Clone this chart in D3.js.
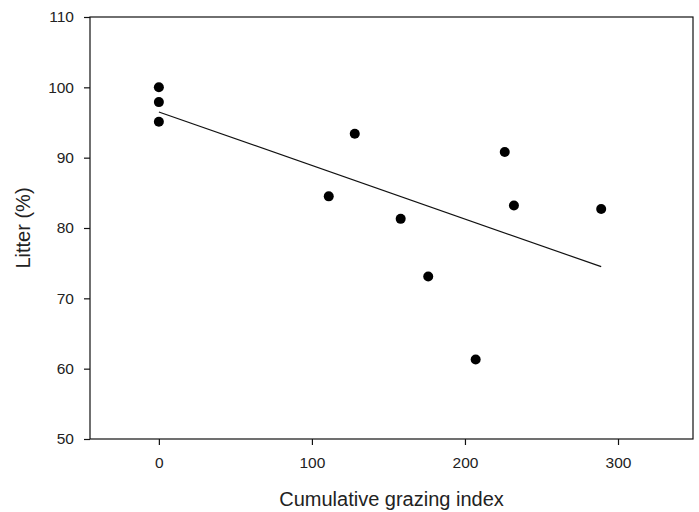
<!DOCTYPE html>
<html><head><meta charset="utf-8">
<script src="https://cdn.jsdelivr.net/npm/d3@7"></script>
<style>
body{margin:0;background:#fff;}
svg{display:block;}
text{font-family:"Liberation Sans",Arial,sans-serif;fill:#222;}
</style></head>
<body>
<script>
const grazingIndex = [0, 0, 0, 111, 128, 158, 176, 207, 226, 232, 289];
const litterPct    = [100, 97.9, 95.1, 84.5, 93.4, 81.3, 73.1, 61.3, 90.8, 83.2, 82.7];
const fitX = [0, 289];
const fitY = [96.5, 74.5];
const xTicks = [0, 100, 200, 300];
const yTicks = [50, 60, 70, 80, 90, 100, 110];
const xTitle = "Cumulative grazing index";
const yTitle = "Litter (%)";

const W = 699, H = 512;
const m = {left: 90, right: 6, top: 17, bottom: 73};
const svg = d3.select("body").append("svg").attr("width", W).attr("height", H);

const x = d3.scaleLinear().domain([-45, 349]).range([m.left, W - m.right]);
const y = d3.scaleLinear().domain([50, 110]).range([H - m.bottom, m.top]);

// frame
svg.append("rect").attr("x", x(-45)).attr("y", y(110))
  .attr("width", x(349) - x(-45)).attr("height", y(50) - y(110))
  .attr("fill", "none").attr("stroke", "#111").attr("stroke-width", 1.2);

const xAxis = svg.append("g").attr("transform", `translate(0,${y(50)})`)
  .call(d3.axisBottom(x).tickValues(xTicks).tickSize(6).tickPadding(12).tickFormat(d3.format("d")));
const yAxis = svg.append("g").attr("transform", `translate(${x(-45)},0)`)
  .call(d3.axisLeft(y).tickValues(yTicks).tickSize(6).tickPadding(10).tickFormat(d3.format("d")));
[xAxis, yAxis].forEach(g => {
  g.select(".domain").remove();
  g.selectAll(".tick line").attr("stroke", "#111").attr("stroke-width", 1.2);
  g.selectAll(".tick text").attr("font-size", 15.5).attr("font-family", "Liberation Sans, Arial, sans-serif").attr("fill", "#222");
});

// fit line
svg.append("path")
  .datum(fitX.map((v, i) => [v, fitY[i]]))
  .attr("d", d3.line().x(d => x(d[0])).y(d => y(d[1])))
  .attr("fill", "none").attr("stroke", "#111").attr("stroke-width", 1.2);

// points
svg.append("g").selectAll("circle")
  .data(grazingIndex.map((v, i) => [v, litterPct[i]]))
  .join("circle")
  .attr("cx", d => x(d[0])).attr("cy", d => y(d[1])).attr("r", 5)
  .attr("fill", "#000");

// titles
svg.append("text").attr("x", (m.left + W - m.right) / 2).attr("y", 506)
  .attr("text-anchor", "middle").attr("font-size", 20).text(xTitle);
svg.append("text").attr("transform", `translate(30,${(y(50) + y(110)) / 2}) rotate(-90)`)
  .attr("text-anchor", "middle").attr("font-size", 20).text(yTitle);
</script>
</body></html>
